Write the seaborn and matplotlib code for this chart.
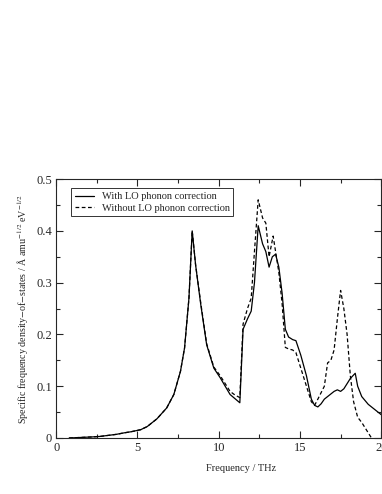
import numpy as np
import pandas as pd
import seaborn as sns
import matplotlib.pyplot as plt
from matplotlib.ticker import MultipleLocator

# frequency grid (THz) and the two density-of-states curves
freq_with = [0.8, 1.5, 2.2, 2.7, 3.2, 3.7, 4.2, 4.6, 5.2, 5.6, 6.2, 6.8, 7.24, 7.65, 7.9,
             8.17, 8.37, 8.58, 8.9, 9.26, 9.7, 10.1, 10.4, 10.7, 11.0, 11.3, 11.5, 11.77,
             12.0, 12.2, 12.43, 12.7, 12.9, 13.1, 13.3, 13.5, 13.7, 13.9, 14.1, 14.3,
             14.55, 14.75, 15.05, 15.4, 15.7, 15.9, 16.1, 16.3, 16.5, 16.7, 16.9, 17.1,
             17.3, 17.5, 17.7, 17.9, 18.1, 18.4, 18.55, 18.8, 19.2, 19.6, 20.0]
dos_with = [0.000, 0.001, 0.002, 0.003, 0.005, 0.007, 0.010, 0.012, 0.016, 0.022, 0.037,
            0.058, 0.084, 0.129, 0.174, 0.270, 0.400, 0.334, 0.257, 0.180, 0.135, 0.116,
            0.100, 0.084, 0.076, 0.068, 0.210, 0.230, 0.245, 0.300, 0.410, 0.375, 0.360,
            0.330, 0.350, 0.355, 0.330, 0.280, 0.210, 0.195, 0.190, 0.188, 0.160, 0.120,
            0.075, 0.063, 0.060, 0.066, 0.075, 0.080, 0.085, 0.090, 0.093, 0.090, 0.095,
            0.105, 0.115, 0.125, 0.100, 0.080, 0.065, 0.055, 0.045]

freq_without = [0.8, 1.5, 2.2, 2.7, 3.2, 3.7, 4.2, 4.6, 5.2, 5.6, 6.2, 6.8, 7.24, 7.65,
                7.9, 8.17, 8.37, 8.58, 8.9, 9.26, 9.7, 10.1, 10.4, 10.7, 11.0, 11.3, 11.5,
                11.77, 12.0, 12.2, 12.43, 12.7, 12.9, 13.1, 13.35, 13.5, 13.7, 13.9, 14.1,
                14.3, 14.55, 14.75, 15.05, 15.4, 15.7, 15.9, 16.1, 16.5, 16.7, 16.9, 17.1,
                17.3, 17.5, 17.7, 17.9, 18.1, 18.3, 18.55, 18.8, 19.2, 19.4]
dos_without = [0.000, 0.001, 0.002, 0.003, 0.005, 0.007, 0.010, 0.012, 0.016, 0.022,
               0.037, 0.058, 0.084, 0.129, 0.174, 0.270, 0.400, 0.334, 0.260, 0.182,
               0.137, 0.120, 0.105, 0.090, 0.083, 0.078, 0.220, 0.250, 0.270, 0.360,
               0.460, 0.425, 0.415, 0.350, 0.390, 0.360, 0.320, 0.260, 0.175, 0.172,
               0.170, 0.165, 0.135, 0.100, 0.070, 0.063, 0.075, 0.100, 0.145, 0.150,
               0.170, 0.230, 0.285, 0.250, 0.200, 0.120, 0.070, 0.040, 0.030, 0.010, 0.000]

labels = ["With LO phonon correction", "Without LO phonon correction"]

df = pd.concat([
    pd.DataFrame({"freq": freq_with, "dos": dos_with, "kind": labels[0]}),
    pd.DataFrame({"freq": freq_without, "dos": dos_without, "kind": labels[1]}),
])

sns.set_style("ticks")
plt.rcParams["font.family"] = ["Liberation Serif", "DejaVu Serif"]
plt.rcParams["mathtext.fontset"] = "stix"

fig = plt.figure(figsize=(3.82, 4.94), dpi=100)
ax = fig.add_axes([0.147, 0.1134, 0.851, 0.524])

sns.lineplot(data=df, x="freq", y="dos", hue="kind", style="kind",
             palette=["black", "black"], dashes=[(None, None), (3, 2)],
             linewidth=0.9, sort=False, ax=ax)

ax.set_xlim(0, 20)
ax.set_ylim(0, 0.5)
ax.xaxis.set_major_locator(MultipleLocator(5))
ax.xaxis.set_minor_locator(MultipleLocator(2.5))
ax.yaxis.set_major_locator(MultipleLocator(0.1))
ax.yaxis.set_minor_locator(MultipleLocator(0.05))
ax.set_yticks([0, 0.1, 0.2, 0.3, 0.4, 0.5])
ax.set_yticklabels(["0", "0.1", "0.2", "0.3", "0.4", "0.5"])
ax.tick_params(which="both", direction="in", top=True, right=True, labelsize=9,
               width=0.8, pad=3)
ax.tick_params(which="major", length=5)
ax.tick_params(which="minor", length=3)
for s in ax.spines.values():
    s.set_linewidth(0.8)

ax.set_xlabel("Frequency / THz", fontsize=7.5)
ax.xaxis.set_label_coords(0.57, -0.1)
ax.set_ylabel(r"Specific frequency density$-$of$-$states / Å amu$^{-1/2}$ eV$^{-1/2}$",
              fontsize=7.2, labelpad=4)

leg = ax.legend(loc="upper left", bbox_to_anchor=(0.03, 0.985), fontsize=7.5,
                frameon=True, fancybox=False, edgecolor="black", handlelength=1.8,
                borderpad=0.35, labelspacing=0.2)
leg.get_frame().set_linewidth(0.7)
leg.set_title(None)

fig.savefig("out.png", dpi=100)
